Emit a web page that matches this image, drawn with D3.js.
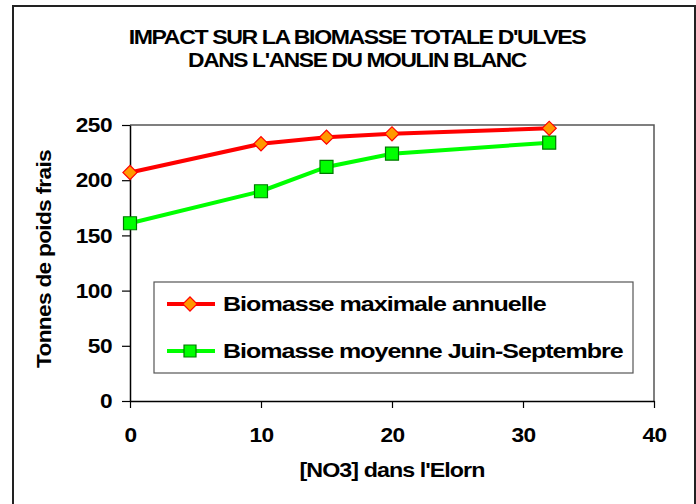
<!DOCTYPE html>
<html>
<head>
<meta charset="utf-8">
<script src="https://cdn.jsdelivr.net/npm/d3@7"></script>
<style>
  body { margin: 0; background: #fff; }
  svg { display: block; font-family: "Liberation Sans", Arial, sans-serif; font-weight: bold; }
  .tick text { font-size: 21px; font-weight: bold; fill: #000; }
</style>
</head>
<body>
<svg id="chart" width="696" height="504"></svg>
<script>
// NO3 concentration in the Elorn
var no3 = [0, 10, 15, 20, 32];
// tonnes of fresh weight
var biomasseMax = [207, 233, 239, 242, 247];
var biomasseMoy = [161, 190, 212, 224, 234];
var xTicks = [0, 10, 20, 30, 40];
var yTicks = [0, 50, 100, 150, 200, 250];
var titleLines = ["IMPACT SUR LA BIOMASSE TOTALE D'ULVES", "DANS L'ANSE DU MOULIN BLANC"];
var seriesNames = ["Biomasse maximale annuelle", "Biomasse moyenne Juin-Septembre"];

var svg = d3.select("#chart");

// text stretched horizontally to a given width (the original is a bit wide and tight)
function wideText(parent, str, px, py, fs, width, anchor, ls, rot) {
  var g = parent.append("g")
    .attr("transform", "translate(" + px + "," + py + ")" + (rot ? " rotate(" + rot + ")" : ""));
  var t = g.append("text").attr("font-size", fs).attr("text-anchor", anchor)
    .attr("letter-spacing", ls).text(str);
  var k = width / t.node().getComputedTextLength();
  t.attr("transform", "scale(" + k + ",1)");
  return t;
}

// outer frame
svg.append("rect")
  .attr("x", 13).attr("y", 6)
  .attr("width", 682).attr("height", 520)
  .attr("fill", "none").attr("stroke", "#222").attr("stroke-width", 2);

var x = d3.scaleLinear().domain([0, 40]).range([130, 654]);
var y = d3.scaleLinear().domain([0, 250]).range([401, 125]);

// plot frame (top + right)
svg.append("path")
  .attr("d", "M" + x(0) + "," + y(250) + "H" + x(40) + "V" + y(0))
  .attr("fill", "none").attr("stroke", "#555").attr("stroke-width", 1.5);

var xAxis = svg.append("g")
  .attr("transform", "translate(0," + y(0) + ")")
  .call(d3.axisBottom(x).tickValues(xTicks).tickSize(7).tickPadding(19).tickSizeOuter(0));
var yAxis = svg.append("g")
  .attr("transform", "translate(" + x(0) + ",0)")
  .call(d3.axisLeft(y).tickValues(yTicks).tickSize(8).tickPadding(10).tickSizeOuter(0));
[xAxis, yAxis].forEach(function (a) {
  a.select(".domain").attr("stroke", "#000").attr("stroke-width", 1.5);
  a.selectAll(".tick line").attr("stroke", "#000").attr("stroke-width", 1.2);
  a.selectAll(".tick text").attr("letter-spacing", -0.5).attr("transform", "scale(1.08,1)");
});
xAxis.selectAll(".tick text").attr("dy", "0.71em");
yAxis.selectAll(".tick text").attr("x", -18 / 1.08);

// title
wideText(svg, titleLines[0], 357, 44, 20, 457, "middle", -1.2);
wideText(svg, titleLines[1], 357, 67, 20, 338, "middle", -1.2);

// axis titles
wideText(svg, "[NO3] dans l'Elorn", 392, 477, 19.5, 185, "middle", -0.8);
wideText(svg, "Tonnes de poids frais", 51, 259, 19.5, 218, "middle", -0.6, -90);

var line = d3.line()
  .x(function (d) { return x(d[0]); })
  .y(function (d) { return y(d[1]); });

var diamond = d3.symbol().type(d3.symbolSquare).size(100);
var square = d3.symbol().type(d3.symbolSquare).size(169);

function drawSeries(vals, color, marker, fill, stroke, rot) {
  var pts = no3.map(function (v, i) { return [v, vals[i]]; });
  svg.append("path")
    .datum(pts)
    .attr("d", line)
    .attr("fill", "none").attr("stroke", color).attr("stroke-width", 4);
  svg.selectAll(null).data(pts).enter().append("path")
    .attr("d", marker)
    .attr("transform", function (d) { return "translate(" + x(d[0]) + "," + y(d[1]) + ") rotate(" + rot + ")"; })
    .attr("fill", fill).attr("stroke", stroke).attr("stroke-width", 1.2);
}
drawSeries(biomasseMoy, "#00ff00", square, "#00ff00", "#007a00", 0);
drawSeries(biomasseMax, "#ff0000", diamond, "#ff9900", "#ff0000", 45);

// legend
var lg = svg.append("g");
lg.append("rect")
  .attr("x", 154).attr("y", 282).attr("width", 479).attr("height", 91)
  .attr("fill", "#fff").attr("stroke", "#555").attr("stroke-width", 1.2);
var legendRows = [
  { name: seriesNames[0], w: 323, color: "#ff0000", marker: diamond, fill: "#ff9900", stroke: "#ff0000", rot: 45 },
  { name: seriesNames[1], w: 400, color: "#00ff00", marker: d3.symbol().type(d3.symbolSquare).size(144), fill: "#00ff00", stroke: "#007a00", rot: 0 }
];
legendRows.forEach(function (r, i) {
  var cy = 304 + i * 47;
  lg.append("line")
    .attr("x1", 167).attr("x2", 215).attr("y1", cy).attr("y2", cy)
    .attr("stroke", r.color).attr("stroke-width", 4);
  lg.append("path")
    .attr("d", r.marker)
    .attr("transform", "translate(190," + cy + ") rotate(" + r.rot + ")")
    .attr("fill", r.fill).attr("stroke", r.stroke).attr("stroke-width", 1.2);
  wideText(lg, r.name, 223, cy + 7, 20, r.w, "start", -0.8);
});
</script>
</body>
</html>
